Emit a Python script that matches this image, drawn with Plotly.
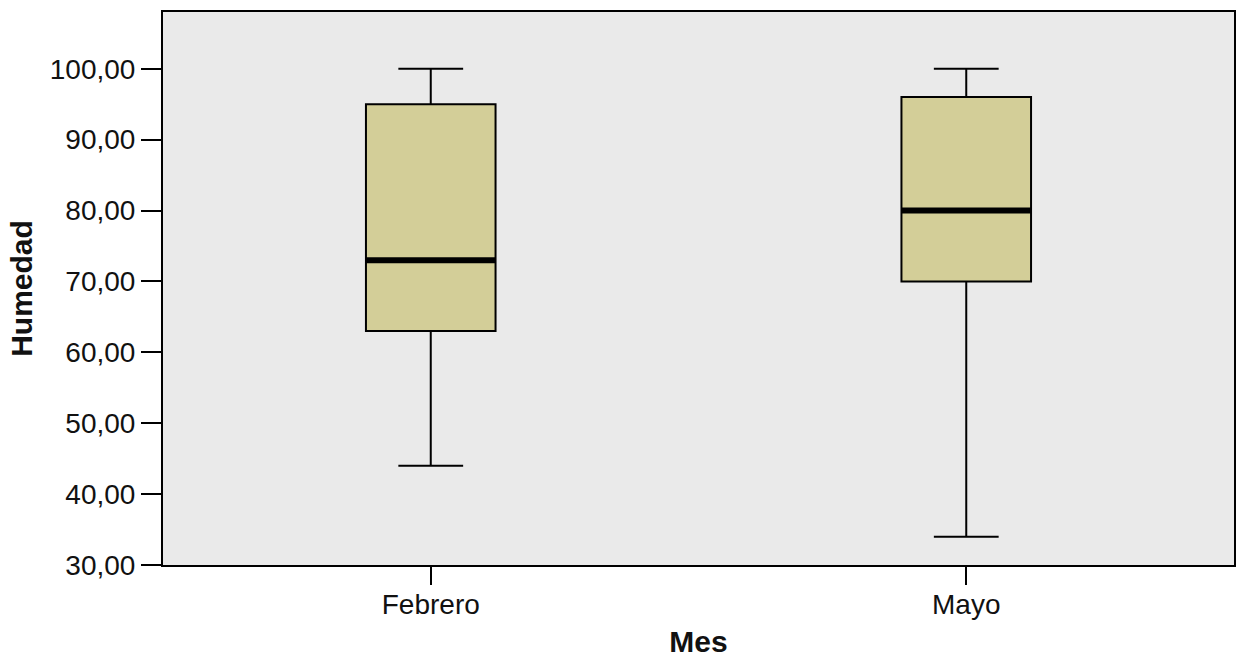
import plotly.graph_objects as go

categories = ["Febrero", "Mayo"]
positions = [0, 1]
lower_whisker = [44, 34]
q1_values = [63, 70]
median_values = [73, 80]
q3_values = [95, 96]
upper_whisker = [100, 100]
y_ticks = [30, 40, 50, 60, 70, 80, 90, 100]

BOX_W = 0.242
FILL = "#d3ce98"
FONT = "Liberation Sans, Arial, sans-serif"

fig = go.Figure()
for i, cat in enumerate(categories):
    fig.add_trace(go.Box(
        x=[positions[i]],
        q1=[q1_values[i]], median=[median_values[i]], q3=[q3_values[i]],
        lowerfence=[lower_whisker[i]], upperfence=[upper_whisker[i]],
        width=BOX_W, whiskerwidth=0.5,
        fillcolor=FILL, line=dict(color="black", width=2),
        name=cat, showlegend=False, boxpoints=False, hoverinfo="skip",
    ))
for i, cat in enumerate(categories):
    fig.add_trace(go.Scatter(
        x=[positions[i] - BOX_W / 2, positions[i] + BOX_W / 2],
        y=[median_values[i], median_values[i]],
        mode="lines", line=dict(color="black", width=6),
        showlegend=False, hoverinfo="skip",
    ))

fig.update_layout(
    width=1237, height=658,
    margin=dict(l=163, r=1, t=12, b=93),
    paper_bgcolor="white", plot_bgcolor="#eaeaea",
    separators=",.",
    font=dict(family=FONT, size=28, color="#111111"),
)
fig.update_xaxes(
    range=[-0.5, 1.5], tickvals=positions, ticktext=categories,
    showgrid=False, zeroline=False,
    showline=True, mirror=True, linecolor="black", linewidth=2,
    ticks="outside", ticklen=18, tickwidth=2, tickcolor="black",
    tickfont=dict(size=28), ticklabelstandoff=-5,
    title=dict(text="<b>Mes</b>", font=dict(size=30), standoff=16),
)
fig.update_yaxes(
    range=[30, 108], tickvals=y_ticks, tickformat=".2f",
    showgrid=False, zeroline=False,
    showline=True, mirror=True, linecolor="black", linewidth=2,
    ticks="outside", ticklen=20, tickwidth=2, tickcolor="black",
    tickfont=dict(size=28),
    title=dict(text="<b>Humedad</b>", font=dict(size=30), standoff=8),
)

fig.write_html(
    "out.html",
    config={"displayModeBar": False},
    post_script="document.body.style.margin='0';document.body.style.overflow='hidden';",
)
